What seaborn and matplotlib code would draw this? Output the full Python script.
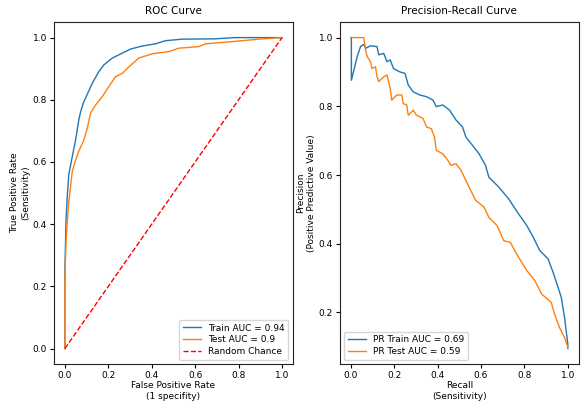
import matplotlib
matplotlib.use("Agg")
import matplotlib.pyplot as plt
import seaborn as sns
import pandas as pd

# ROC curve points (FPR, TPR)
train_fpr = [0.0, 0.0, 0.0, 0.005, 0.011, 0.018, 0.034, 0.049, 0.054, 0.064, 0.072, 0.085, 0.098,
             0.126, 0.156, 0.179, 0.218, 0.264, 0.302, 0.356, 0.417, 0.463, 0.54, 0.69, 0.785, 1.0]
train_tpr = [0.0, 0.18, 0.25, 0.41, 0.49, 0.56, 0.617, 0.67, 0.69, 0.735, 0.76, 0.79, 0.81,
             0.853, 0.89, 0.912, 0.934, 0.95, 0.963, 0.973, 0.98, 0.99, 0.995, 0.996, 1.0, 1.0]
test_fpr = [0.0, 0.0, 0.005, 0.011, 0.018, 0.026, 0.034, 0.049, 0.064, 0.087, 0.103, 0.118, 0.141,
            0.172, 0.202, 0.233, 0.264, 0.295, 0.34, 0.402, 0.479, 0.525, 0.617, 0.647, 0.77, 0.893, 1.0]
test_tpr = [0.0, 0.22, 0.34, 0.41, 0.47, 0.52, 0.57, 0.605, 0.635, 0.67, 0.708, 0.757, 0.783,
            0.81, 0.842, 0.874, 0.885, 0.906, 0.934, 0.948, 0.955, 0.966, 0.971, 0.98, 0.987, 0.995, 1.0]
chance = [0.0, 1.0]

# Precision-recall curve points (recall, precision)
train_recall = [0.0, 0.003, 0.003, 0.03, 0.045, 0.06, 0.07, 0.09, 0.121, 0.129, 0.152, 0.167, 0.182,
                0.197, 0.227, 0.25, 0.265, 0.288, 0.318, 0.349, 0.379, 0.394, 0.424, 0.455, 0.485,
                0.515, 0.53, 0.56, 0.591, 0.621, 0.636, 0.682, 0.727, 0.773, 0.811, 0.841, 0.871,
                0.909, 0.932, 0.955, 0.97, 0.985, 1.0, 1.0]
train_precision = [1.0, 1.0, 0.876, 0.945, 0.974, 0.98, 0.969, 0.976, 0.974, 0.95, 0.954, 0.93, 0.935,
                   0.91, 0.9, 0.896, 0.862, 0.842, 0.833, 0.828, 0.818, 0.799, 0.804, 0.789, 0.76,
                   0.74, 0.711, 0.687, 0.662, 0.628, 0.594, 0.565, 0.531, 0.487, 0.453, 0.419, 0.38,
                   0.356, 0.317, 0.273, 0.244, 0.185, 0.108, 0.095]
test_recall = [0.0, 0.06, 0.068, 0.076, 0.091, 0.098, 0.114, 0.121, 0.129, 0.152, 0.167, 0.182, 0.189,
               0.212, 0.235, 0.242, 0.258, 0.265, 0.288, 0.303, 0.333, 0.349, 0.371, 0.386, 0.394,
               0.424, 0.447, 0.462, 0.485, 0.508, 0.523, 0.545, 0.568, 0.576, 0.614, 0.636, 0.674,
               0.705, 0.735, 0.773, 0.811, 0.848, 0.879, 0.924, 0.939, 0.962, 0.985, 1.0]
test_precision = [1.0, 1.0, 0.964, 0.945, 0.93, 0.91, 0.915, 0.886, 0.872, 0.886, 0.891, 0.852, 0.818,
                  0.833, 0.833, 0.808, 0.804, 0.774, 0.789, 0.774, 0.765, 0.74, 0.735, 0.711, 0.672,
                  0.662, 0.643, 0.628, 0.633, 0.614, 0.594, 0.565, 0.536, 0.526, 0.507, 0.477, 0.453,
                  0.409, 0.404, 0.361, 0.322, 0.293, 0.254, 0.229, 0.195, 0.156, 0.127, 0.099]

roc_labels = ["Train AUC = 0.94", "Test AUC = 0.9", "Random Chance"]
pr_labels = ["PR Train AUC = 0.69", "PR Test AUC = 0.59"]

roc_df = pd.concat([
    pd.DataFrame({"x": train_fpr, "y": train_tpr, "curve": roc_labels[0]}),
    pd.DataFrame({"x": test_fpr, "y": test_tpr, "curve": roc_labels[1]}),
], ignore_index=True)
pr_df = pd.concat([
    pd.DataFrame({"x": train_recall, "y": train_precision, "curve": pr_labels[0]}),
    pd.DataFrame({"x": test_recall, "y": test_precision, "curve": pr_labels[1]}),
], ignore_index=True)

plt.rcParams.update({"font.size": 6.5, "axes.titlesize": 7.5, "axes.labelsize": 6.5,
                     "xtick.labelsize": 6.5, "ytick.labelsize": 6.5, "legend.fontsize": 6.5,
                     "axes.edgecolor": "#222222", "axes.linewidth": 0.8})

fig, (ax1, ax2) = plt.subplots(1, 2, figsize=(5.81, 4.01), dpi=100)
fig.subplots_adjust(left=0.093, right=0.996, top=0.945, bottom=0.092, wspace=0.197)

palette = ["#1f77b4", "#ff7f0e"]
sns.lineplot(data=roc_df, x="x", y="y", hue="curve", palette=palette, sort=False,
             estimator=None, linewidth=1.0, ax=ax1)
sns.lineplot(x=chance, y=chance, color="red", linestyle="--", linewidth=1.0,
             label=roc_labels[2], ax=ax1)
ax1.set_title("ROC Curve")
ax1.set_xlabel("False Positive Rate\n(1 specifity)", labelpad=1)
ax1.set_ylabel("True Positive Rate\n(Sensitivity)", labelpad=2)
ax1.legend(loc="lower right", handlelength=2.0, borderpad=0.4, labelspacing=0.3)

sns.lineplot(data=pr_df, x="x", y="y", hue="curve", palette=palette, sort=False,
             estimator=None, linewidth=1.0, ax=ax2)
ax2.set_title("Precision-Recall Curve")
ax2.set_xlabel("Recall\n(Sensitivity)", labelpad=1)
ax2.set_ylabel("Precision\n(Positive Predictive Value)", labelpad=2)
ax2.set_yticks([0.2, 0.4, 0.6, 0.8, 1.0])
ax2.legend(loc="lower left", handlelength=2.0, borderpad=0.4, labelspacing=0.3)

for ax in (ax1, ax2):
    ax.tick_params(length=3, width=0.8, pad=2)

fig.savefig("out.png", dpi=100)
